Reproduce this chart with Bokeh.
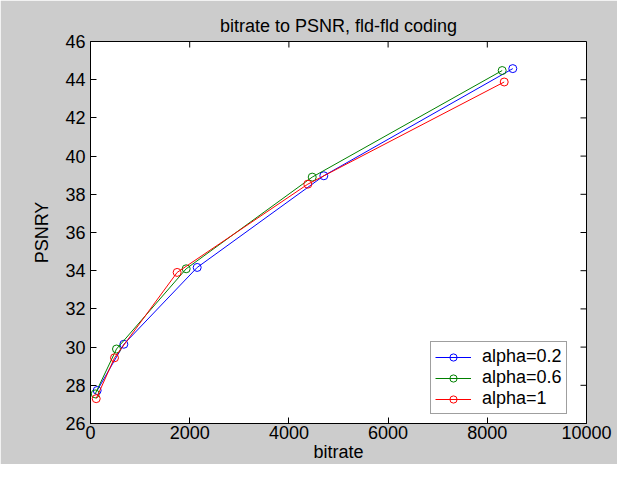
import math
from bokeh.plotting import figure
from bokeh.models import FixedTicker
from bokeh.embed import file_html
from bokeh.resources import INLINE

# Data
bitrate_a02 = [135, 672, 2151, 4704, 8514]
psnr_a02 = [27.73, 30.15, 34.17, 38.97, 44.58]

bitrate_a06 = [95, 524, 1929, 4470, 8300]
psnr_a06 = [27.55, 29.9, 34.1, 38.9, 44.48]

bitrate_a1 = [115, 484, 1747, 4381, 8341]
psnr_a1 = [27.3, 29.44, 33.91, 38.53, 43.88]

series_labels = ["alpha=0.2", "alpha=0.6", "alpha=1"]
series_colors = ["#0000ff", "#008000", "#ff0000"]

x_ticks = [0, 2000, 4000, 6000, 8000, 10000]
y_ticks = [26, 28, 30, 32, 34, 36, 38, 40, 42, 44, 46]

FONT = "Liberation Sans"
FS = "18px"
GRAY = "#cccccc"
TICK = 6

p = figure(width=617, height=464, output_backend="svg", toolbar_location=None,
           x_range=(x_ticks[0], x_ticks[-1]), y_range=(y_ticks[0], y_ticks[-1]),
           min_border_left=90, min_border_right=31, min_border_top=41, min_border_bottom=38,
           background_fill_color="white", border_fill_color=GRAY,
           outline_line_color="black",
           title="bitrate to PSNR, fld-fld coding")

p.title.align = "center"
p.title.text_font = FONT
p.title.text_font_size = FS
p.title.text_font_style = "normal"
p.title.text_color = "black"
p.title.standoff = 12

p.grid.visible = False

for ax in (p.xaxis[0], p.yaxis[0]):
    ax.major_tick_in = TICK
    ax.major_tick_out = 0
    ax.minor_tick_in = 0
    ax.minor_tick_out = 0
    ax.axis_line_color = "black"
    ax.major_tick_line_color = "black"
    ax.major_label_text_font = FONT
    ax.major_label_text_font_size = FS
    ax.major_label_text_color = "black"
    ax.axis_label_text_font = FONT
    ax.axis_label_text_font_size = FS
    ax.axis_label_text_font_style = "normal"
    ax.axis_label_text_color = "black"

p.xaxis.ticker = FixedTicker(ticks=x_ticks)
p.yaxis.ticker = FixedTicker(ticks=y_ticks)
p.xaxis.axis_label = "bitrate"
p.yaxis.axis_label = "PSNRY"
p.xaxis.major_label_standoff = 2
p.xaxis.axis_label_standoff = 0
p.yaxis.major_label_standoff = 5
p.yaxis.axis_label_standoff = 10

# inward ticks on the top and right edges of the box (MATLAB style)
p.ray(x=x_ticks, y=[y_ticks[-1]] * len(x_ticks), length=TICK, length_units="screen",
      angle=-math.pi / 2, line_color="black", line_width=1)
p.ray(x=[x_ticks[-1]] * len(y_ticks), y=y_ticks, length=TICK, length_units="screen",
      angle=math.pi, line_color="black", line_width=1)

for xs, ys, lab, col in [(bitrate_a02, psnr_a02, series_labels[0], series_colors[0]),
                         (bitrate_a06, psnr_a06, series_labels[1], series_colors[1]),
                         (bitrate_a1, psnr_a1, series_labels[2], series_colors[2])]:
    p.line(xs, ys, line_color=col, line_width=1, legend_label=lab)
    p.scatter(xs, ys, marker="circle", size=8, fill_color=None, line_color=col,
              line_width=1, legend_label=lab)

lg = p.legend[0]
lg.location = (340, 9)
lg.label_text_font = FONT
lg.label_text_font_size = FS
lg.label_text_color = "black"
lg.border_line_color = "#404040"
lg.background_fill_color = "white"
lg.background_fill_alpha = 1.0
lg.padding = 4
lg.spacing = 0
lg.margin = 0
lg.glyph_width = 36
lg.glyph_height = 18
lg.label_height = 18
lg.label_standoff = 11

html = file_html(p, INLINE)
html = html.replace("<body>", '<body style="background-color:%s;">' % GRAY, 1)
open("out.html", "w").write(html)
